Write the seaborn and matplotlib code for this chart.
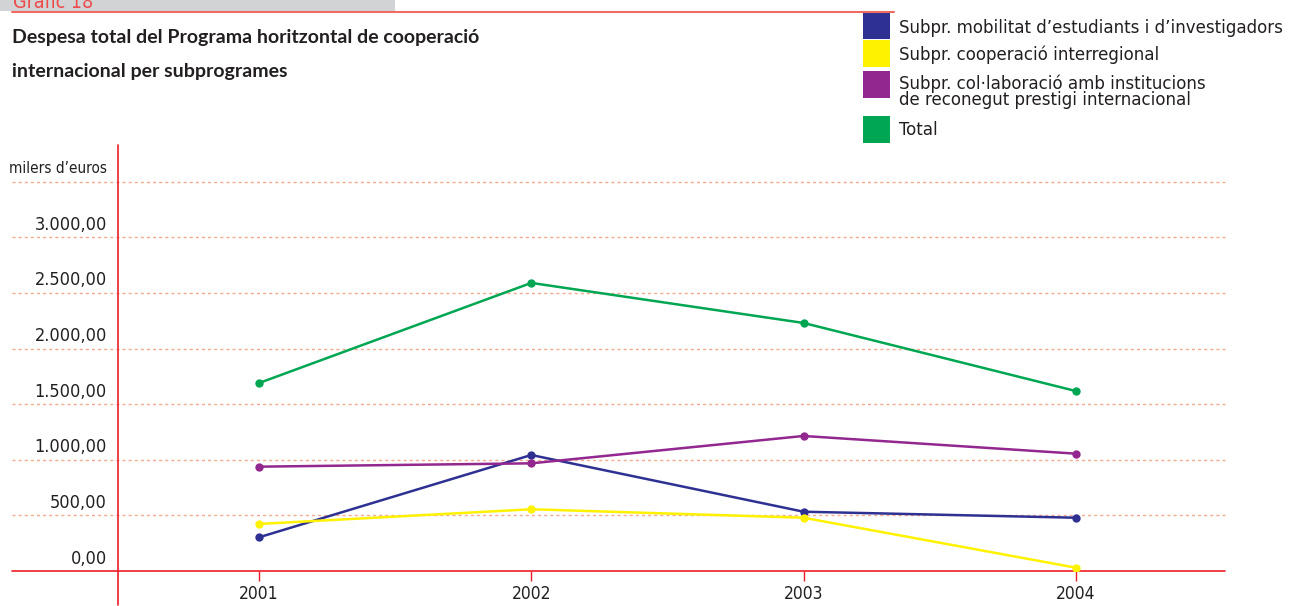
import numpy as np
import pandas as pd
import matplotlib.pyplot as plt
import seaborn as sns
from matplotlib.patches import Rectangle
from matplotlib.lines import Line2D

# data (milers d'euros)
YEARS = [2001, 2002, 2003, 2004]
MOBILITAT = [303, 1043, 533, 479]
INTERREGIONAL = [423, 555, 479, 30]
COLLABORACIO = [938, 968, 1214, 1055]
TOTAL = [1690, 2590, 2230, 1618]

SERIES_NAMES = ["Subpr. mobilitat d\u2019estudiants i d\u2019investigadors",
                "Subpr. cooperació interregional",
                "Subpr. col·laboració amb institucions\nde reconegut prestigi internacional",
                "Total"]
SERIES_COLORS = ["#2e3192", "#fff200", "#92278f", "#00a651"]

GRID_VALUES = [500, 1000, 1500, 2000, 2500, 3000, 3500]
YTICK_VALUES = [0, 500, 1000, 1500, 2000, 2500, 3000, 3500]
YTICK_LABELS = ["0,00", "500,00", "1.000,00", "1.500,00", "2.000,00",
                "2.500,00", "3.000,00", "milers d\u2019euros"]

RED = "#ed1c24"
GRID_RED = "#f5a98f"
TEXT = "#231f20"

W, H = 1293, 606


def fx(px):
    return px / W


def fy(py):
    return 1 - py / H


sns.set_style("white")
plt.rcParams['font.family'] = ['DejaVu Sans']
plt.rcParams['font.stretch'] = 'condensed'

# long-form table for seaborn
df = pd.DataFrame({
    'any': YEARS * 4,
    'valor': MOBILITAT + INTERREGIONAL + COLLABORACIO + TOTAL,
    'subprograma': sum([[n] * len(YEARS) for n in SERIES_NAMES], []),
})

fig = plt.figure(figsize=(W / 100, H / 100), dpi=100)
ax = fig.add_axes([fx(118), fy(571), fx(1225) - fx(118), (571 - 145) / H])

sns.lineplot(data=df, x='any', y='valor', hue='subprograma',
             palette=dict(zip(SERIES_NAMES, SERIES_COLORS)),
             marker='o', markersize=6, markeredgewidth=0, linewidth=1.8,
             legend=False, ax=ax, zorder=3)

ax.set_xlim(2000.482, 2004.548)
ax.set_ylim(0, 3830)
for s in ax.spines.values():
    s.set_visible(False)

xmin_ext = (12 - 118) / (1225 - 118)
for v in GRID_VALUES:
    ax.axhline(v, xmin=xmin_ext, xmax=1, color=GRID_RED, lw=1,
               linestyle=(0, (2.2, 2.2)), clip_on=False, zorder=1)
ax.axhline(0, xmin=xmin_ext, xmax=1, color=RED, lw=1.2, clip_on=False, zorder=2)
ax.axvline(2000.482, ymin=-(605 - 571) / 426, ymax=1, color=RED, lw=1.2,
           clip_on=False, zorder=2)

# y labels sit a little above their gridlines
ax.set_yticks([v + 130 for v in YTICK_VALUES])
ax.set_yticklabels(YTICK_LABELS)
ax.tick_params(axis='y', length=0, pad=8, labelsize=13, labelcolor=TEXT)
ax.get_yticklabels()[-1].set_fontsize(11)

ax.set_xticks(YEARS)
ax.set_xticklabels([str(y) for y in YEARS])
ax.tick_params(axis='x', direction='out', length=7, width=1, color=RED,
               pad=3, labelsize=12.5, labelcolor=TEXT, bottom=True)
ax.set_xlabel("")
ax.set_ylabel("")

# header
fig.add_artist(Rectangle((0, fy(11)), fx(395), 11 / H, transform=fig.transFigure,
                         color="#d1d3d4", lw=0))
fig.add_artist(Line2D([fx(12), fx(894)], [fy(12), fy(12)], transform=fig.transFigure,
                      color="#ee6b61", lw=1.5))
fig.text(fx(13), fy(8), "Gràfic 18", color="#ee4a4a", fontsize=14, va='baseline')
for ty, line in [(38, "Despesa total del Programa horitzontal de cooperació"),
                 (71, "internacional per subprogrames")]:
    fig.text(fx(12), fy(ty), line, family=['Lato', 'DejaVu Sans'],
             fontstretch='normal', fontweight='bold', fontsize=14,
             color=TEXT, va='center')

# legend with square swatches
sq_tops = [12, 40, 71, 116]
txt_y = [28, 55, 92, 130]
for top, ty, name, col in zip(sq_tops, txt_y, SERIES_NAMES, SERIES_COLORS):
    fig.add_artist(Rectangle((fx(863), fy(top + 27)), fx(27), 27 / H,
                             transform=fig.transFigure, color=col, lw=0))
    fig.text(fx(899), fy(ty), name, fontsize=13.3, color=TEXT, va='center',
             linespacing=0.85)

fig.savefig("out.png", dpi=100)
